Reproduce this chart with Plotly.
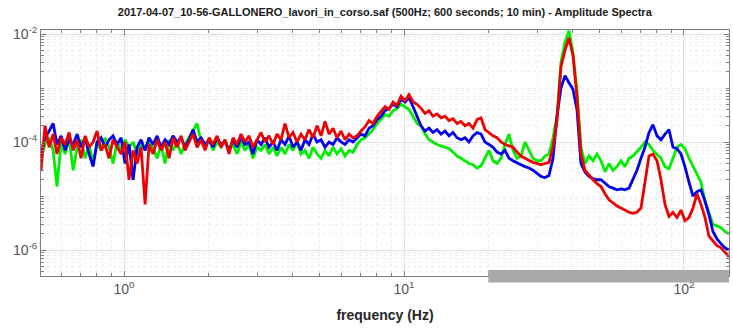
import plotly.graph_objects as go

# Frequency samples (Hz), log-spaced
freq = [
    0.505, 0.522, 0.540, 0.558, 0.576, 0.596, 0.616, 0.636, 0.658, 0.680,
    0.702, 0.726, 0.750, 0.775, 0.801, 0.828, 0.855, 0.884, 0.913, 0.944,
    0.976, 1.008, 1.042, 1.077, 1.113, 1.150, 1.189, 1.228, 1.269, 1.312,
    1.356, 1.401, 1.448, 1.496, 1.546, 1.598, 1.651, 1.707, 1.764, 1.823,
    1.884, 1.947, 2.012, 2.079, 2.148, 2.220, 2.295, 2.371, 2.451, 2.533,
    2.617, 2.705, 2.795, 2.888, 2.985, 3.085, 3.188, 3.294, 3.405, 3.518,
    3.636, 3.758, 3.883, 4.013, 4.147, 4.286, 4.429, 4.577, 4.732, 4.890,
    5.053, 5.222, 5.397, 5.577, 5.764, 5.957, 6.156, 6.362, 6.574, 6.794,
    7.021, 7.256, 7.499, 7.749, 8.009, 8.276, 8.553, 8.839, 9.134, 9.441,
    9.757, 10.08, 10.42, 10.77, 11.13, 11.50, 11.89, 12.28, 12.69, 13.12,
    13.56, 14.01, 14.48, 14.96, 15.46, 15.98, 16.51, 17.07, 17.64, 18.23,
    18.84, 19.47, 20.12, 20.79, 21.48, 22.20, 22.95, 23.71, 24.51, 25.33,
    26.17, 27.05, 27.95, 28.88, 29.85, 30.85, 31.88, 32.94, 34.05, 35.18,
    36.36, 37.58, 38.83, 40.13, 41.47, 42.86, 44.29, 45.77, 47.32, 48.90,
    50.53, 52.22, 53.97, 55.77, 57.64, 59.57, 61.56, 63.62, 65.74, 67.94,
    70.21, 72.56, 74.99, 77.49, 80.09, 82.76, 85.53, 88.39, 91.34, 94.41,
    97.57, 100.8, 104.2, 107.7, 111.3, 115.0, 118.9, 122.8, 126.9, 131.2,
    135.6, 140.1, 144.8,
]

# Amplitude spectra of the three components
amp_green = [
    5e-5, 9e-5, 12e-5, 7e-5, 1.5e-5, 10e-5, 6e-5, 12e-5, 3e-5, 8e-5,
    11e-5, 5e-5, 9e-5, 4e-5, 10e-5, 7e-5, 12e-5, 8e-5, 4e-5, 10e-5,
    7e-5, 11e-5, 8e-5, 10e-5, 6e-5, 9e-5, 7e-5, 10e-5, 8e-5, 5e-5,
    9e-5, 4e-5, 11e-5, 7e-5, 10e-5, 6e-5, 9e-5, 12e-5, 16e-5, 22e-5,
    10e-5, 8e-5, 11e-5, 7e-5, 10e-5, 8e-5, 11e-5, 7e-5, 9e-5, 6e-5,
    10e-5, 7e-5, 9e-5, 5e-5, 8e-5, 7e-5, 9e-5, 6e-5, 8e-5, 5.5e-5,
    8e-5, 6e-5, 9e-5, 7e-5, 10e-5, 6e-5, 7e-5, 5e-5, 8e-5, 6e-5,
    5e-5, 7e-5, 5.5e-5, 8e-5, 6e-5, 7.5e-5, 5.5e-5, 7e-5, 6.5e-5, 9e-5,
    11e-5, 12e-5, 14e-5, 17e-5, 22e-5, 26e-5, 32e-5, 30e-5, 38e-5, 42e-5,
    50e-5, 45e-5, 40e-5, 30e-5, 22e-5, 20e-5, 14e-5, 11e-5, 10e-5, 9e-5,
    8.5e-5, 8e-5, 7.5e-5, 6.5e-5, 5.5e-5, 5e-5, 4.5e-5, 4e-5, 3.8e-5, 3.3e-5,
    3.6e-5, 5e-5, 7e-5, 4.5e-5, 4e-5, 5e-5, 9e-5, 14e-5, 7e-5, 5e-5,
    5.5e-5, 10e-5, 7e-5, 5e-5, 4.5e-5, 4.5e-5, 5.5e-5, 6e-5, 12e-5, 30e-5,
    300e-5, 700e-5, 1150e-5, 450e-5, 90e-5, 8e-5, 4e-5, 5.5e-5, 4.5e-5, 6e-5,
    4.5e-5, 2.8e-5, 4e-5, 3e-5, 3.5e-5, 4.5e-5, 3.5e-5, 5e-5, 5.5e-5, 6.5e-5,
    8e-5, 10e-5, 9e-5, 7e-5, 6e-5, 5e-5, 3.5e-5, 3.2e-5, 5e-5, 8e-5,
    9e-5, 7.5e-5, 5e-5, 3.5e-5, 2.5e-5, 1.8e-5, 0.8e-5, 0.5e-5, 0.3e-5, 0.28e-5,
    0.26e-5, 0.22e-5, 0.2e-5,
]

amp_blue = [
    6e-5, 12e-5, 16e-5, 22e-5, 9e-5, 13e-5, 7e-5, 11e-5, 9e-5, 14e-5,
    8e-5, 12e-5, 6e-5, 3.5e-5, 10e-5, 12e-5, 8e-5, 11e-5, 13e-5, 9e-5,
    12e-5, 4e-5, 9e-5, 2e-5, 8e-5, 11e-5, 7e-5, 12e-5, 9e-5, 13e-5,
    8e-5, 11e-5, 9e-5, 13e-5, 10e-5, 12e-5, 8e-5, 11e-5, 17e-5, 10e-5,
    12e-5, 9e-5, 11e-5, 8e-5, 12e-5, 9e-5, 10e-5, 7e-5, 11e-5, 8e-5,
    12e-5, 9e-5, 10e-5, 6e-5, 11e-5, 9e-5, 12e-5, 8e-5, 10e-5, 7e-5,
    11e-5, 9e-5, 13e-5, 8e-5, 10e-5, 7e-5, 11e-5, 9e-5, 14e-5, 10e-5,
    11e-5, 8e-5, 10e-5, 9e-5, 12e-5, 10e-5, 9e-5, 11e-5, 10e-5, 12e-5,
    14e-5, 13e-5, 18e-5, 20e-5, 26e-5, 30e-5, 38e-5, 42e-5, 50e-5, 45e-5,
    62e-5, 55e-5, 66e-5, 45e-5, 30e-5, 20e-5, 16e-5, 18e-5, 15e-5, 17e-5,
    14e-5, 16e-5, 13e-5, 15e-5, 12e-5, 11e-5, 12e-5, 10e-5, 13e-5, 15e-5,
    14e-5, 10e-5, 9e-5, 8e-5, 6.5e-5, 6e-5, 7e-5, 5e-5, 4.5e-5, 4.2e-5,
    3.8e-5, 3.5e-5, 3.3e-5, 3e-5, 2.6e-5, 2.3e-5, 2.2e-5, 2.4e-5, 5e-5, 30e-5,
    100e-5, 170e-5, 125e-5, 95e-5, 40e-5, 4e-5, 2.8e-5, 2.3e-5, 2.1e-5, 2.0e-5,
    2.0e-5, 1.7e-5, 1.5e-5, 1.4e-5, 1.3e-5, 1.35e-5, 1.3e-5, 1.4e-5, 2.0e-5, 3.0e-5,
    5e-5, 8e-5, 15e-5, 21e-5, 13e-5, 11e-5, 14e-5, 17e-5, 8e-5, 7.5e-5,
    6e-5, 3.5e-5, 1.8e-5, 1.0e-5, 1.2e-5, 1.3e-5, 0.8e-5, 0.45e-5, 0.22e-5, 0.16e-5,
    0.13e-5, 0.11e-5, 0.1e-5,
]

amp_red = [
    3e-5, 20e-5, 8e-5, 14e-5, 6e-5, 12e-5, 9e-5, 15e-5, 7e-5, 11e-5,
    5e-5, 13e-5, 8e-5, 10e-5, 16e-5, 7e-5, 9e-5, 5e-5, 11e-5, 8e-5,
    6e-5, 10e-5, 2e-5, 7e-5, 4e-5, 8e-5, 0.7e-5, 9e-5, 6e-5, 11e-5,
    7e-5, 10e-5, 5e-5, 12e-5, 8e-5, 13e-5, 7e-5, 10e-5, 14e-5, 8e-5,
    11e-5, 7e-5, 12e-5, 9e-5, 13e-5, 8e-5, 11e-5, 6e-5, 12e-5, 9e-5,
    14e-5, 10e-5, 13e-5, 8e-5, 11e-5, 15e-5, 10e-5, 13e-5, 9e-5, 14e-5,
    11e-5, 22e-5, 12e-5, 15e-5, 10e-5, 14e-5, 11e-5, 17e-5, 12e-5, 20e-5,
    13e-5, 24e-5, 14e-5, 18e-5, 12e-5, 16e-5, 11e-5, 14e-5, 12e-5, 13e-5,
    16e-5, 19e-5, 25e-5, 22e-5, 30e-5, 36e-5, 45e-5, 40e-5, 55e-5, 48e-5,
    70e-5, 58e-5, 75e-5, 55e-5, 50e-5, 42e-5, 34e-5, 38e-5, 30e-5, 33e-5,
    28e-5, 30e-5, 25e-5, 27e-5, 22e-5, 24e-5, 20e-5, 22e-5, 18e-5, 26e-5,
    28e-5, 17e-5, 15e-5, 13e-5, 12e-5, 10e-5, 9e-5, 8.5e-5, 8e-5, 6.5e-5,
    5.5e-5, 5e-5, 4.5e-5, 4.2e-5, 4e-5, 3.8e-5, 4e-5, 4.2e-5, 8e-5, 25e-5,
    250e-5, 500e-5, 850e-5, 400e-5, 70e-5, 6e-5, 3e-5, 2.4e-5, 2.0e-5, 1.7e-5,
    1.5e-5, 1.1e-5, 0.85e-5, 0.75e-5, 0.65e-5, 0.6e-5, 0.55e-5, 0.5e-5, 0.48e-5, 0.5e-5,
    0.6e-5, 2.0e-5, 5.5e-5, 6e-5, 4.5e-5, 2e-5, 0.7e-5, 0.42e-5, 0.5e-5, 0.4e-5,
    0.55e-5, 0.35e-5, 0.4e-5, 0.6e-5, 1.1e-5, 0.7e-5, 0.4e-5, 0.18e-5, 0.15e-5, 0.12e-5,
    0.11e-5, 0.09e-5, 0.075e-5,
]

# Highlighted frequency band along the bottom of the axes (Hz)
band_lo_hi = [20.0, 144.8]

x_tick_vals = [1, 10, 100]
x_tick_text = ["10<sup>0</sup>", "10<sup>1</sup>", "10<sup>2</sup>"]
y_tick_vals = [1e-2, 1e-4, 1e-6]
y_tick_text = ["10<sup>-2</sup>", "10<sup>-4</sup>", "10<sup>-6</sup>"]

title_text = ("2017-04-07_10-56-GALLONERO_lavori_in_corso.saf "
              "(500Hz; 600 seconds; 10 min) - Amplitude Spectra")
x_label = "frequency (Hz)"

x_range_log = [-0.2967, 2.1608]
y_range_log = [-6.481, -1.926]

fig = go.Figure()
for amp, color in ((amp_green, "#00ee00"), (amp_blue, "#0000ee"), (amp_red, "#ee0000")):
    fig.add_trace(go.Scatter(
        x=freq, y=amp, mode="lines",
        line=dict(color=color, width=2.8),
        showlegend=False, hoverinfo="x+y",
    ))

fig.add_shape(
    type="rect", xref="x", yref="paper",
    x0=band_lo_hi[0], x1=band_lo_hi[1], y0=-0.026, y1=0.024,
    fillcolor="#a9a9a9", line_width=0, layer="above",
)

axis_common = dict(
    type="log",
    showline=True, linecolor="#808080", linewidth=1, mirror="ticks",
    ticks="inside", ticklen=5, tickcolor="#808080",
    showgrid=True, gridcolor="#e2e2e2", gridwidth=1,
    zeroline=False,
    tickfont=dict(family="Liberation Sans, Arial, sans-serif", size=14, color="#555555"),
    minor=dict(ticks="inside", ticklen=3, tickcolor="#808080", dtick="D1",
               showgrid=True, gridcolor="#eeeeee", griddash="dot"),
)

fig.update_xaxes(
    **axis_common,
    range=x_range_log, tickmode="array", tickvals=x_tick_vals, ticktext=x_tick_text,
    title=dict(text="<b>" + x_label + "</b>",
               font=dict(family="Liberation Sans, Arial, sans-serif", size=14, color="#262626"),
               standoff=14),
)
fig.update_yaxes(
    **axis_common,
    range=y_range_log, tickmode="array", tickvals=y_tick_vals, ticktext=y_tick_text,
)

fig.update_layout(
    width=733, height=329,
    margin=dict(l=41, r=4, t=30, b=53),
    paper_bgcolor="white", plot_bgcolor="white",
    title=dict(text="<b>" + title_text + "</b>", x=0.525, xanchor="center",
               y=0.963, yanchor="middle", yref="container",
               font=dict(family="Liberation Sans, Arial, sans-serif", size=11, color="#1a1a1a")),
)

fig.write_html("out.html")
